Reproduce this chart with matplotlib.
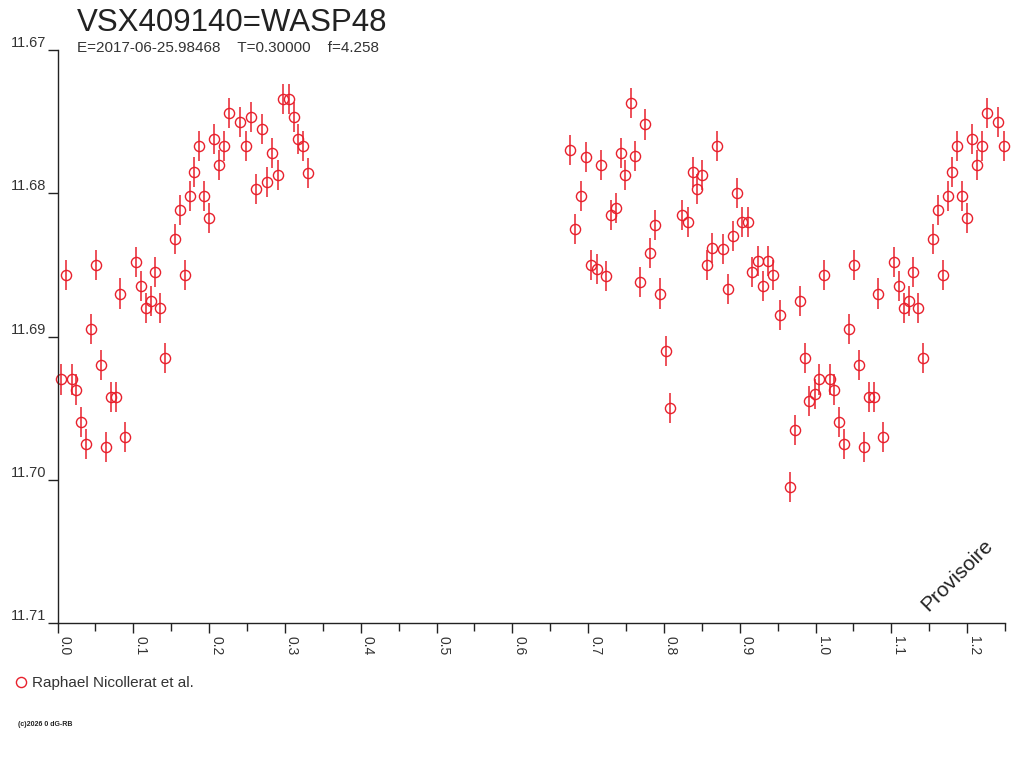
import numpy as np
import matplotlib
matplotlib.use("Agg")
import matplotlib.pyplot as plt
from matplotlib.lines import Line2D
from matplotlib.ticker import FixedLocator

plt.rcParams['font.family'] = ['Liberation Sans', 'DejaVu Sans']

title = "VSX409140=WASP48"
subtitle = "E=2017-06-25.98468    T=0.30000    f=4.258"
observer = "Raphael Nicollerat et al."

# phases 0.00-0.33 (after the wrap) and 0.67-1.00
phase = [0.0116, 0.0508, 0.1040, 0.1290, 0.1682, 0.0828, 0.1102, 0.1234, 0.1168, 0.1356,
         0.0442, 0.1418, 0.0570, 0.0046, 0.0187, 0.0248, 0.0706, 0.0768, 0.0314, 0.0380,
         0.0636, 0.0894, 0.1550, 0.1620, 0.1744, 0.1933, 0.1995, 0.1805, 0.1867, 0.2065,
         0.2193, 0.2127, 0.2263, 0.2408, 0.2553, 0.2487, 0.2694, 0.2834, 0.2623, 0.2764,
         0.2913, 0.2979, 0.3054, 0.3116, 0.3177, 0.3243, 0.3305,
         0.6765, 0.6831, 0.6902, 0.6968, 0.7042, 0.7113, 0.7174, 0.7232, 0.7298, 0.7368,
         0.7430, 0.7491, 0.7562, 0.7623, 0.7689, 0.7755, 0.7821, 0.7887, 0.7953, 0.8024,
         0.8084, 0.8239, 0.8314, 0.8380, 0.8441, 0.8507, 0.8569, 0.8639, 0.8704, 0.8776,
         0.8846, 0.8912, 0.8968, 0.9026, 0.9106, 0.9158, 0.9237, 0.9307, 0.9376, 0.9442,
         0.9532, 0.9660, 0.9729, 0.9789, 0.9857, 0.9918, 0.9989]
mag = [11.6857, 11.6850, 11.6848, 11.6855, 11.6857, 11.6870, 11.6865, 11.6875, 11.6880, 11.6880,
       11.6895, 11.6915, 11.6920, 11.6930, 11.6930, 11.6937, 11.6942, 11.6942, 11.6960, 11.6975,
       11.6977, 11.6970, 11.6832, 11.6812, 11.6802, 11.6802, 11.6817, 11.6785, 11.6767, 11.6762,
       11.6767, 11.6780, 11.6744, 11.6750, 11.6747, 11.6767, 11.6755, 11.6772, 11.6797, 11.6792,
       11.6787, 11.6734, 11.6734, 11.6747, 11.6762, 11.6767, 11.6786,
       11.6770, 11.6825, 11.6802, 11.6775, 11.6850, 11.6853, 11.6780, 11.6858, 11.6815, 11.6810,
       11.6772, 11.6787, 11.6737, 11.6774, 11.6862, 11.6752, 11.6842, 11.6822, 11.6870, 11.6910,
       11.6950, 11.6815, 11.6820, 11.6785, 11.6797, 11.6787, 11.6850, 11.6838, 11.6767, 11.6839,
       11.6867, 11.6830, 11.6800, 11.6820, 11.6820, 11.6855, 11.6847, 11.6865, 11.6847, 11.6857,
       11.6885, 11.7005, 11.6965, 11.6875, 11.6915, 11.6945, 11.6940]
mag_err = 0.00105

x_max = 1.25
red = '#e8202c'

ph = np.array(phase)
mg = np.array(mag)
# repeat the start of the cycle after phase 1
rep = ph + 1 <= x_max
x = np.concatenate([ph, ph[rep] + 1])
y = np.concatenate([mg, mg[rep]])

fig = plt.figure(figsize=(10.24, 7.68), dpi=100)
ax = fig.add_axes([57.5 / 1024, 1 - 623 / 768, (1005 - 57.5) / 1024, 573 / 768])

ax.errorbar(x, y, yerr=mag_err, fmt='o', ms=7.3, mfc='none', mec=red, mew=1.0,
            ecolor=red, elinewidth=1.1, capsize=0, clip_on=False)

ax.set_xlim(0, x_max)
ax.set_ylim(11.71, 11.67)
for s in ['top', 'right']:
    ax.spines[s].set_visible(False)
for s in ['left', 'bottom']:
    ax.spines[s].set_linewidth(1.0)
    ax.spines[s].set_color('#222222')

ax.xaxis.set_major_locator(FixedLocator(np.round(np.arange(0, 1.21, 0.1), 2)))
ax.xaxis.set_minor_locator(FixedLocator(np.round(np.arange(0.05, 1.26, 0.1), 2)))
ax.set_xticklabels(['%.1f' % v for v in np.arange(0, 1.21, 0.1)])
ax.tick_params(axis='x', which='major', length=7, width=1, color='#222222', pad=2,
               labelsize=10, labelcolor='#333333')
ax.tick_params(axis='x', which='minor', length=6, width=1, color='#222222')
for lab in ax.get_xticklabels():
    lab.set_rotation(270)
    lab.set_ha('left')
    lab.set_va('top')

ax.set_yticks([11.67, 11.68, 11.69, 11.70, 11.71])
ax.set_yticklabels(['11.67', '11.68', '11.69', '11.70', '11.71'])
ax.tick_params(axis='y', which='major', length=7, width=1, color='#222222', pad=1,
               labelsize=10.5, labelcolor='#333333')
for lab in ax.get_yticklabels():
    lab.set_va('bottom')

fig.text(77 / 1024, 1 - 31 / 768, title, fontsize=22.5, color='#222222', va='baseline')
fig.text(77 / 1024, 1 - 52 / 768, subtitle, fontsize=11, color='#333333', va='baseline')

fig.text(957 / 1024, 1 - 575 / 768, "Provisoire", fontsize=15, rotation=45,
         ha='center', va='center', color='#222222')

handle = Line2D([], [], marker='o', ls='', ms=7.3, mfc='none', mec=red, mew=1.0)
fig.legend(handles=[handle], labels=[observer], loc='center left',
           bbox_to_anchor=(6 / 1024, 1 - 683 / 768), frameon=False, fontsize=11,
           handlelength=1.0, handletextpad=0.2, borderpad=0, labelcolor='#333333')

fig.text(18 / 1024, 1 - 724 / 768, "(c)2026 0 dG-RB", fontsize=5, color='#222222',
         va='center', fontweight='bold')

fig.savefig('out.png', dpi=100)
